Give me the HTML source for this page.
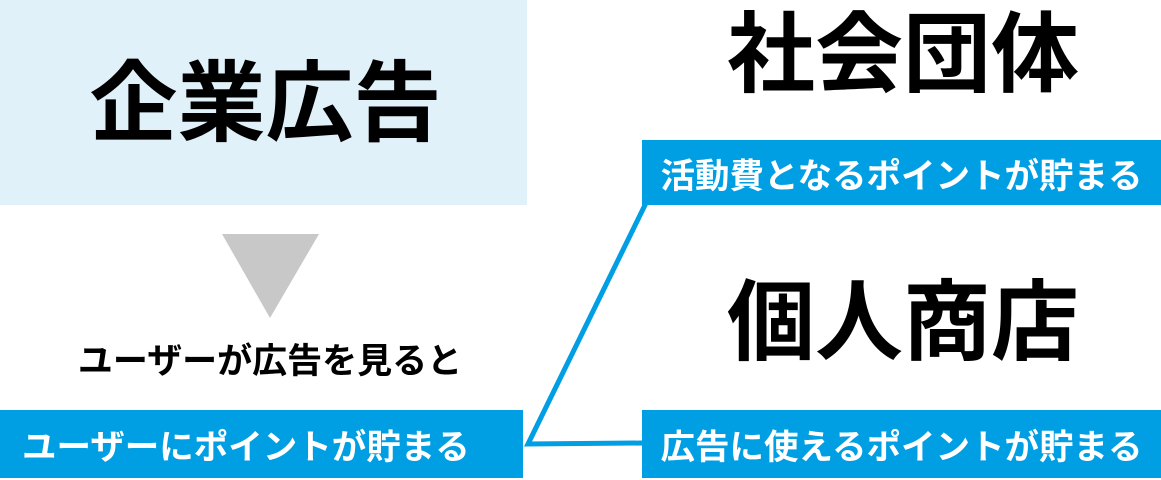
<!DOCTYPE html>
<html><head><meta charset="utf-8"><style>
body{margin:0;width:1161px;height:480px;position:relative;background:#fff;overflow:hidden;font-family:"Liberation Sans","Noto Sans CJK JP",sans-serif;font-weight:bold}
.a{position:absolute;display:flex;align-items:center;justify-content:center;white-space:nowrap}
.b{background:#009ee3;color:#fff;font-size:34.5px}
</style></head><body>
<div class="a" style="left:0;top:0;width:527px;height:205px;background:#e1f1fa;"><span style="font-size:88px;color:#000;position:relative;top:-6px;left:2px">企業広告</span></div>
<svg style="position:absolute;left:0;top:0" width="1161" height="480">
<polygon points="222,234 319,234 270,318" fill="#c8c8c8"/>
<polyline points="646,203 528,444 643,443" fill="none" stroke="#009ee3" stroke-width="5"/>
</svg>
<div class="a" style="left:0;top:333px;width:540px;height:50px;font-size:35px;color:#000">ユーザーが広告を見ると</div>
<div class="a b" style="left:0;top:410px;width:523px;height:68px;justify-content:flex-start;padding-left:22px;box-sizing:border-box">ユーザーにポイントが貯まる</div>
<div class="a" style="left:641px;top:0;width:524px;height:95px;font-size:88px;color:#000">社会団体</div>
<div class="a b" style="left:642px;top:140px;width:519px;height:65px">活動費となるポイントが貯まる</div>
<div class="a" style="left:641px;top:268px;width:524px;height:95px;font-size:88px;color:#000">個人商店</div>
<div class="a b" style="left:642px;top:410px;width:519px;height:68px">広告に使えるポイントが貯まる</div>
</body></html>
